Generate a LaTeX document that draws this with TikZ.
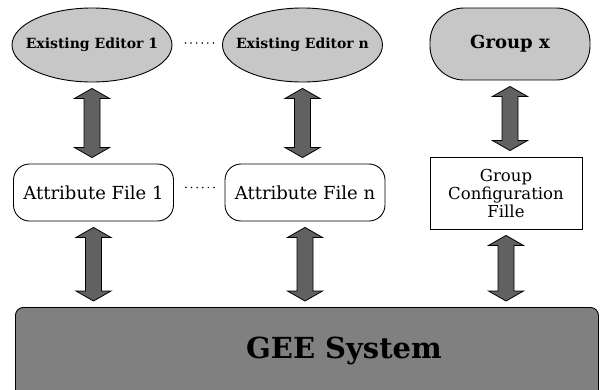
\documentclass[tikz,border=0pt]{standalone}
\usepackage{fontspec}
\setmainfont{DejaVu Serif}
\usetikzlibrary{calc,shapes.geometric}
\newcommand{\zerow}[1]{\makebox[0pt]{#1}}
\begin{document}
\begin{tikzpicture}[x=1pt,y=-1pt,
  edgebox/.style={draw=black, line width=0.9pt},
  editor/.style={edgebox, fill=black!22, ellipse, minimum width=160pt, minimum height=74pt, inner sep=0pt, font=\bfseries\fontsize{14}{16}\selectfont},
  groupnode/.style={edgebox, fill=black!22, rectangle, rounded corners=34pt, minimum width=160pt, minimum height=72pt, inner sep=0pt, font=\bfseries\fontsize{18}{20}\selectfont},
  attrbox/.style={edgebox, fill=white, rectangle, rounded corners=16pt, minimum width=160pt, minimum height=57pt, inner sep=0pt, font=\fontsize{18}{20}\selectfont},
  cfgbox/.style={edgebox, fill=white, rectangle, minimum width=152pt, minimum height=72pt, inner sep=0pt, align=center, font=\fontsize{16.5}{18}\selectfont},
  geebox/.style={edgebox, fill=black!50, rectangle, rounded corners=8pt, minimum width=583pt, minimum height=100pt, inner sep=0pt},
  geetext/.style={font=\bfseries\fontsize{29}{32}\selectfont, inner sep=0pt},
  dots/.style={line width=1.7pt, dash pattern=on 0pt off 5.6pt, line cap=round},
  blockarrow/.style={draw=black, line width=0.8pt, fill=black!62,
    to path={let \p1=(\tikztostart), \p2=(\tikztotarget) in
      (\x1,\y1-6pt) -- (\x1+17.5pt,\y1-16pt) -- (\x1+8pt,\y1-16pt)
      -- (\x1+8pt,\y2+16pt) -- (\x1+17.5pt,\y2+16pt) -- (\x1,\y2+6pt)
      -- (\x1-17.5pt,\y2+16pt) -- (\x1-8pt,\y2+16pt) -- (\x1-8pt,\y1-16pt)
      -- (\x1-17.5pt,\y1-16pt) -- cycle}}
]
\useasboundingbox (0,0) rectangle (600,389);
\clip (0,0) rectangle (600,389);

% top row
\node[editor] (e1) at (92,45) {\zerow{Existing Editor 1}};
\node[editor] (en) at (302.5,45) {\zerow{Existing Editor n}};
\node[groupnode] (gx) at (510,44) {Group x};

% middle row
\node[attrbox] (a1) at (93.5,192.5) {Attribute File 1};
\node[attrbox] (an) at (305,192.5) {Attribute File n};
\node[cfgbox] (cfg) at (506,193) {Group\\Configuration\\Fille};

% bottom system box
\node[geebox, anchor=north west] (gee) at (15,307) {};
\node[geetext] (geet) at (344,351) {GEE System};

% dotted continuations
\draw[dots, shorten <=13pt, shorten >=5pt] ([yshift=2pt]e1.east) -- ([yshift=2pt]en.west);
\draw[dots, shorten <=12pt, shorten >=8pt] ([yshift=5pt]a1.east) -- ([yshift=5pt]an.west);

% block arrows
\draw[blockarrow] (e1.south) to (a1.north);
\draw[blockarrow] (en.south) to (an.north);
\draw[blockarrow] (gx.south) to (cfg.north);
\draw[blockarrow] (a1.south) to (gee.north);
\draw[blockarrow] (an.south) to (gee.north);
\draw[blockarrow] (cfg.south) to (gee.north);
\end{tikzpicture}
\end{document}
